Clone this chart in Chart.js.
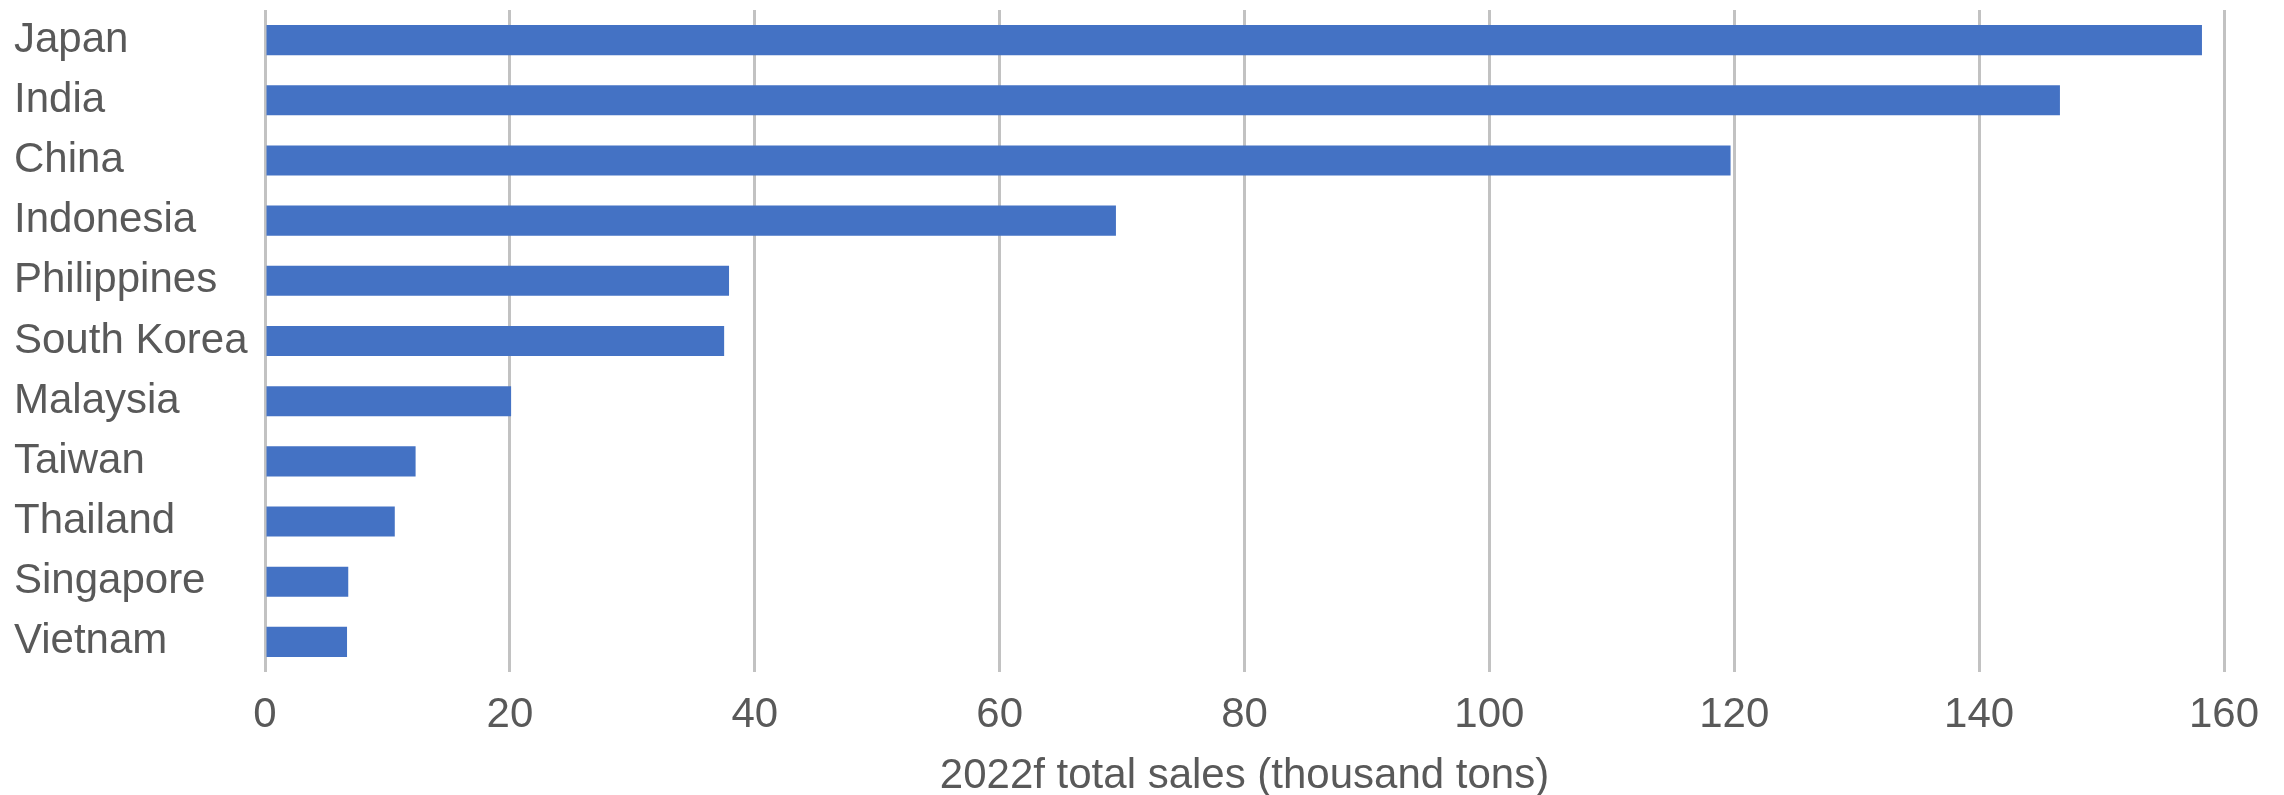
<!DOCTYPE html>
<html>
<head>
<meta charset="utf-8">
<script src="https://cdn.jsdelivr.net/npm/chart.js@4/dist/chart.umd.min.js"></script>
<style>
  html, body { margin: 0; padding: 0; background: #ffffff; }
  #wrap { width: 2284px; height: 795px; position: relative; }
</style>
</head>
<body>
<div id="wrap"><canvas id="c" width="2284" height="795"></canvas></div>
<script>
const categories = ["Japan", "India", "China", "Indonesia", "Philippines", "South Korea", "Malaysia", "Taiwan", "Thailand", "Singapore", "Vietnam"];
const sales = [158.2, 146.6, 119.7, 69.5, 37.9, 37.5, 20.1, 12.3, 10.6, 6.8, 6.7];
const axisMin = 0;
const axisMax = 160;
const axisStep = 20;
const xTitle = "2022f total sales (thousand tons)";

const textColor = "#595959";
const fontFamily = "'Liberation Sans', Arial, sans-serif";

new Chart(document.getElementById("c"), {
  type: "bar",
  data: {
    labels: categories,
    datasets: [{
      data: sales,
      backgroundColor: "#4472C4",
      borderWidth: 0,
      categoryPercentage: 1.0,
      barPercentage: 0.5
    }]
  },
  options: {
    indexAxis: "y",
    responsive: false,
    animation: false,
    devicePixelRatio: 1,
    layout: { padding: { left: 14, right: 60, top: 10, bottom: 0 } },
    plugins: { legend: { display: false }, tooltip: { enabled: false } },
    scales: {
      x: {
        min: axisMin,
        max: axisMax,
        ticks: {
          stepSize: axisStep,
          color: textColor,
          padding: 18,
          font: { family: fontFamily, size: 42 }
        },
        grid: { color: "#c2c2c2", lineWidth: 3, drawTicks: false },
        border: { display: false },
        title: {
          display: true,
          text: xTitle,
          color: textColor,
          font: { family: fontFamily, size: 42, lineHeight: 0.9 },
          padding: { top: 0, bottom: 0 }
        },
        afterFit: (s) => { s.height = 123; }
      },
      y: {
        ticks: {
          color: textColor,
          crossAlign: "far",
          padding: 0,
          font: { family: fontFamily, size: 42, lineHeight: 0.4 }
        },
        grid: { display: false },
        border: { display: false },
        afterFit: (s) => { s.width = 251; }
      }
    }
  }
});
</script>
</body>
</html>
